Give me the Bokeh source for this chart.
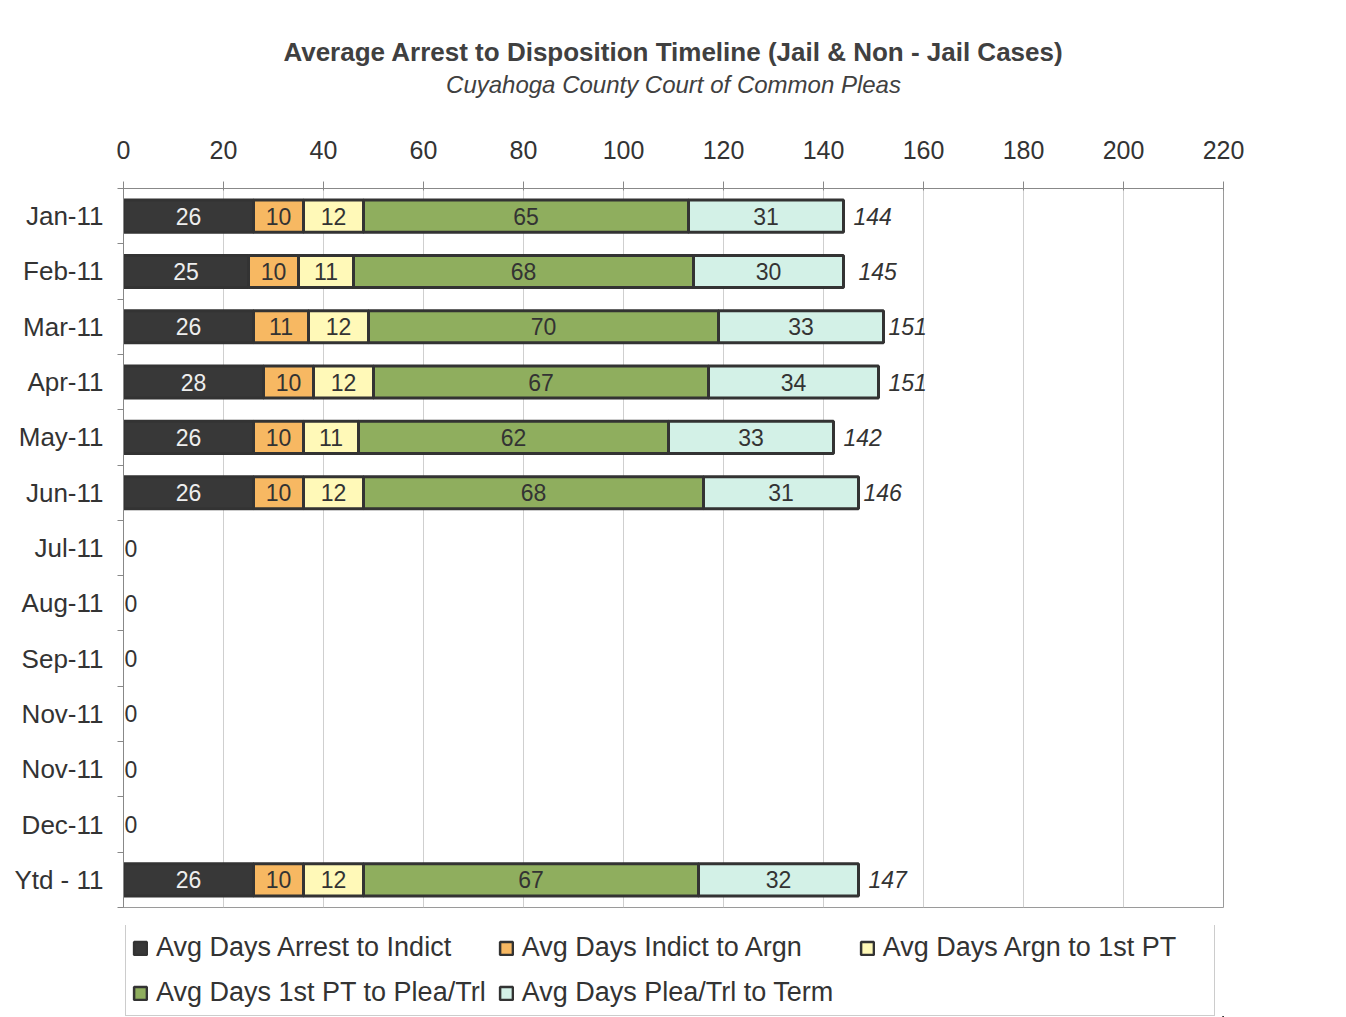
import numpy as np
from bokeh.plotting import figure
from bokeh.layouts import column
from bokeh.models import Range1d, FixedTicker, Legend, LegendItem, ColumnDataSource
from bokeh.core.properties import value
from bokeh.embed import file_html
from bokeh.resources import INLINE

# ---- data ----
months = ["Jan-11", "Feb-11", "Mar-11", "Apr-11", "May-11", "Jun-11", "Jul-11",
          "Aug-11", "Sep-11", "Nov-11", "Nov-11", "Dec-11", "Ytd - 11"]
arrest_to_indict = [26, 25, 26, 28, 26, 26, 0, 0, 0, 0, 0, 0, 26]
indict_to_argn = [10, 10, 11, 10, 10, 10, 0, 0, 0, 0, 0, 0, 10]
argn_to_1st_pt = [12, 11, 12, 12, 11, 12, 0, 0, 0, 0, 0, 0, 12]
pt_to_plea_trl = [65, 68, 70, 67, 62, 68, 0, 0, 0, 0, 0, 0, 67]
plea_trl_to_term = [31, 30, 33, 34, 33, 31, 0, 0, 0, 0, 0, 0, 32]
totals = [144, 145, 151, 151, 142, 146, 0, 0, 0, 0, 0, 0, 147]
x_ticks = [0, 20, 40, 60, 80, 100, 120, 140, 160, 180, 200, 220]

series_names = ["Avg Days Arrest to Indict", "Avg Days Indict to Argn", "Avg Days Argn to 1st PT",
                "Avg Days 1st PT to Plea/Trl", "Avg Days Plea/Trl to Term"]
series_vals = [arrest_to_indict, indict_to_argn, argn_to_1st_pt, pt_to_plea_trl, plea_trl_to_term]
colors = ["#383838", "#F7B862", "#FFF9B8", "#8FAE5E", "#D3F1E7"]
text_colors = ["#EEEEEE", "#333333", "#333333", "#333333", "#333333"]

FONT = "Liberation Sans"

p = figure(width=1346, height=925, frame_width=1100, frame_height=719,
           output_backend="svg", toolbar_location=None,
           title="Average Arrest to Disposition Timeline (Jail & Non - Jail Cases)",
           x_range=Range1d(0, 220), y_range=Range1d(12.5, -0.5),
           x_axis_location="above",
           min_border_left=123, min_border_right=123, min_border_top=188, min_border_bottom=18)

p.title.align = "center"
p.title.text_font = FONT
p.title.text_font_size = "26px"
p.title.text_font_style = "bold"
p.title.text_color = "#404040"
p.title.vertical_align = "bottom"
p.title.standoff = 2

# top axis (its axis label carries the subtitle)
xa = p.xaxis[0]
xa.ticker = FixedTicker(ticks=x_ticks)
xa.major_label_text_font = FONT
xa.major_label_text_font_size = "25px"
xa.major_label_text_color = "#333333"
xa.major_tick_out = 7
xa.major_tick_in = 2
xa.minor_tick_out = 0
xa.minor_tick_in = 0
xa.major_label_standoff = 23
xa.axis_line_color = "#888888"
xa.major_tick_line_color = "#888888"
xa.axis_label = "Cuyahoga County Court of Common Pleas"
xa.axis_label_text_font = FONT
xa.axis_label_text_font_size = "24px"
xa.axis_label_text_font_style = "italic"
xa.axis_label_text_color = "#404040"
xa.axis_label_standoff = 40

ya = p.yaxis[0]
ya.ticker = FixedTicker(ticks=list(range(len(months))),
                        minor_ticks=[i - 0.5 for i in range(len(months) + 1)])
ya.major_label_overrides = {i: m for i, m in enumerate(months)}
ya.major_label_text_font = FONT
ya.major_label_text_font_size = "26px"
ya.major_label_text_color = "#333333"
ya.major_tick_out = 0
ya.major_tick_in = 0
ya.minor_tick_out = 6
ya.minor_tick_in = 0
ya.major_label_standoff = 14
ya.axis_line_color = "#888888"
ya.minor_tick_line_color = "#888888"

p.xgrid.grid_line_color = "#cfcfcf"
p.xgrid.ticker = FixedTicker(ticks=x_ticks)
p.ygrid.grid_line_color = None
p.outline_line_color = "#9a9a9a"
p.background_fill_color = "white"
p.border_fill_color = "white"

# legend strip below the chart (frames are aligned by the column layout);
# its ranges lie outside the data, so its bar renderers only supply legend swatches
lg = figure(width=1346, height=92, output_backend="svg", toolbar_location=None,
            x_range=Range1d(-400, -180), y_range=Range1d(40, 41),
            x_axis_location=None, y_axis_location=None,
            min_border_left=0, min_border_right=0, min_border_top=0, min_border_bottom=0)
lg.grid.grid_line_color = None
lg.outline_line_color = None
lg.background_fill_color = "white"
lg.border_fill_color = "white"

# stacked bars
ys = np.arange(len(months))
left = np.zeros(len(months))
items = []
for name, vals, col, tcol in zip(series_names, series_vals, colors, text_colors):
    v = np.array(vals, dtype=float)
    mask = v > 0
    src = ColumnDataSource(dict(y=ys[mask], left=left[mask], right=(left + v)[mask],
                                mid=(left + v / 2)[mask], lab=[str(int(a)) for a in v[mask]]))
    p.hbar(y="y", left="left", right="right", height=0.58, source=src,
           fill_color=col, line_color="#333333", line_width=3)
    p.text(x="mid", y="y", text="lab", source=src, text_align="center", text_baseline="middle",
           text_font=value(FONT), text_font_size="23px", text_color=tcol)
    r = lg.hbar(y="y", left="left", right="right", height=0.58, source=src,
                fill_color=col, line_color="#333333", line_width=2.5)
    items.append(LegendItem(label=name, renderers=[r]))
    left = left + v

# total labels
tot = np.array(totals, dtype=float)
pos = tot > 0
tsrc = ColumnDataSource(dict(x=tot[pos], y=ys[pos], lab=[str(int(t)) for t in tot[pos]]))
p.text(x="x", y="y", text="lab", source=tsrc, x_offset=10, text_align="left", text_baseline="middle",
       text_font=value(FONT), text_font_size="23px", text_font_style="italic", text_color="#333333")
zsrc = ColumnDataSource(dict(x=tot[~pos], y=ys[~pos], lab=[str(int(t)) for t in tot[~pos]]))
p.text(x="x", y="y", text="lab", source=zsrc, x_offset=1, text_align="left", text_baseline="middle",
       text_font=value(FONT), text_font_size="23px", text_color="#333333")

legend = Legend(items=items, ncols=3, orientation="horizontal", location=(2, 1),
                margin=0, padding=6, spacing=12,
                glyph_width=16, glyph_height=16, label_width=325, label_height=33, label_standoff=8,
                label_text_font=FONT, label_text_font_size="27px", label_text_color="#333333",
                border_line_color="#9a9a9a", border_line_width=1, background_fill_alpha=1)
lg.add_layout(legend, "center")

layout = column(p, lg, spacing=0)
open("out.html", "w").write(file_html(layout, INLINE))
